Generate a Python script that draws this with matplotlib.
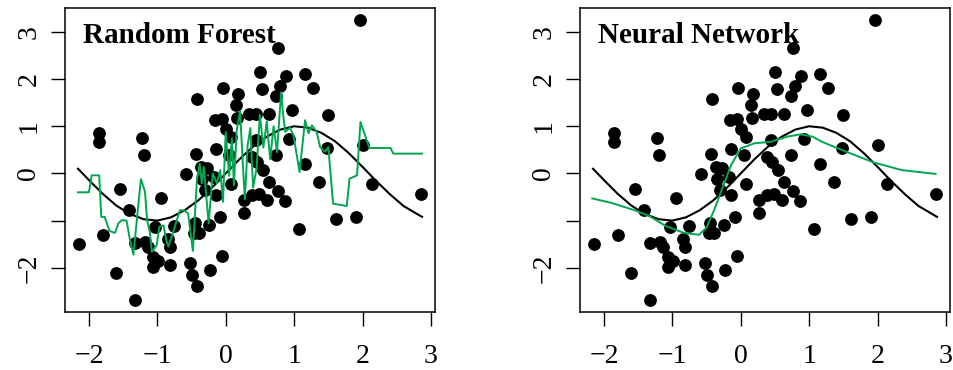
import matplotlib
matplotlib.use("Agg")
from matplotlib import pyplot as plt

plt.rcParams['font.family'] = ['Liberation Serif', 'DejaVu Serif']
plt.rcParams['axes.unicode_minus'] = True

# observed points (same in both panels)
pts_x = [-2.15, -1.85, -1.85, -1.79, -1.61, -1.55, -1.41, -1.33, -1.33, -1.22,
         -1.19, -1.18, -1.14, -1.04, -1.07, -0.99, -1.07, -0.95, -0.85, -0.82,
         -0.82, -0.76, -0.58, -0.52, -0.50, -0.42, -0.47, -0.45, -0.39, -0.23,
         -0.24, -0.09, -0.05, -0.36, -0.27, -0.34, -0.17, -0.31, -0.14, 0.08,
         0.26, 0.27, 0.39, 0.49, 0.61, 0.87, 0.64, 0.76, -0.42, -0.43,
         -0.14, 0.05, 0.00, 0.08, -0.04, 0.18, 0.15, -0.16, -0.05, 0.17,
         0.34, 0.45, 0.64, 0.97, 0.50, 0.53, 0.77, 0.88, 1.16, 0.79,
         1.27, 0.73, 1.49, 0.45, 0.93, 0.39, 0.46, 0.54, 0.74, 1.16,
         1.48, 2.00, 1.97, 1.37, 1.07, 1.61, 1.91, 2.14, 2.86]
pts_y = [-1.50, 0.86, 0.67, -1.31, -2.12, -0.32, -0.78, -2.68, -1.47, 0.75,
         0.40, -1.45, -1.56, -1.13, -1.78, -1.86, -1.98, -0.53, -1.38, -1.55,
         -1.95, -1.12, -0.01, -1.89, -2.15, -2.39, -1.27, -1.06, -1.26, -2.05,
         -1.10, -0.92, -1.75, 0.14, 0.11, -0.11, -0.07, -0.35, -0.46, -0.23,
         -0.83, -0.57, -0.46, -0.44, -0.57, -0.58, -0.19, -0.38, 1.57, 0.42,
         0.51, 0.39, 0.95, 0.78, 1.81, 1.69, 1.45, 1.14, 1.16, 1.18,
         1.27, 1.27, 1.27, 1.34, 2.16, 1.79, 2.66, 2.06, 2.10, 1.85,
         1.82, 1.64, 1.24, 0.71, 0.73, 0.35, 0.25, 0.07, 0.40, 0.21,
         0.53, 0.60, 3.25, -0.18, -1.18, -0.97, -0.93, -0.23, -0.44]

# true curve
true_x = [-2.16, -2.0, -1.8, -1.6, -1.4, -1.2, -1.0, -0.8, -0.6, -0.4, -0.2, 0.0,
          0.2, 0.4, 0.6, 0.8, 1.0, 1.2, 1.4, 1.6, 1.8, 2.0, 2.2, 2.4, 2.6, 2.87]
true_y = [0.10, -0.14, -0.43, -0.68, -0.86, -0.97, -1.00, -0.93, -0.78, -0.57, -0.30, 0.00,
          0.30, 0.57, 0.78, 0.93, 1.00, 0.97, 0.86, 0.68, 0.43, 0.14, -0.16, -0.44, -0.69, -0.92]

# random forest fit
rf_x = [-2.16, -2.00, -1.96, -1.85, -1.82, -1.77, -1.70, -1.62, -1.57, -1.52,
        -1.45, -1.40, -1.35, -1.24, -1.18, -1.15, -1.11, -1.08, -1.01, -0.97,
        -0.91, -0.87, -0.84, -0.79, -0.73, -0.67, -0.61, -0.55, -0.48, -0.42,
        -0.38, -0.35, -0.32, -0.25, -0.19, -0.13, -0.08, -0.04, 0.00, 0.05,
        0.09, 0.12, 0.16, 0.21, 0.25, 0.28, 0.32, 0.36, 0.40, 0.45,
        0.50, 0.55, 0.60, 0.65, 0.70, 0.75, 0.81, 0.84, 0.87, 0.94,
        0.99, 1.08, 1.16, 1.21, 1.26, 1.33, 1.38, 1.45, 1.50, 1.57,
        1.77, 1.81, 1.92, 1.97, 2.10, 2.41, 2.45, 2.87]
rf_y = [-0.40, -0.40, -0.04, -0.04, -0.92, -0.92, -1.22, -1.26, -1.06, -0.99,
        -1.00, -1.41, -1.72, -0.12, -0.39, -0.99, -1.24, -1.66, -1.52, -1.13,
        -1.10, -1.41, -1.55, -1.34, -1.06, -0.78, -0.78, -0.85, -1.64, -0.11,
        0.21, -0.21, 0.14, -1.06, 0.00, -0.21, 0.07, -0.60, 0.88, -0.05,
        0.74, -0.25, 0.90, 1.32, 0.20, -0.55, 0.60, 0.96, -0.30, 0.10,
        1.24, 0.55, 1.10, 0.30, 1.00, 0.45, 1.72, 1.24, 0.88, 0.97,
        0.81, 0.03, 1.13, 0.85, 1.02, 0.88, 0.56, 0.46, 0.56, -0.64,
        -0.69, -0.11, -0.04, 1.09, 0.54, 0.54, 0.42, 0.42]

# neural network fit
nn_x = [-2.17, -1.90, -1.55, -1.34, -1.09, -0.83, -0.61, -0.50, -0.39, -0.27,
        -0.14, 0.00, 0.20, 0.44, 0.68, 0.88, 1.05, 1.19, 1.49, 1.95, 2.36, 2.85]
nn_y = [-0.53, -0.62, -0.78, -0.90, -1.12, -1.26, -1.30, -1.15, -0.78, -0.32,
        0.18, 0.53, 0.64, 0.67, 0.78, 0.83, 0.78, 0.67, 0.49, 0.23, 0.07, -0.01]

titles = ["Random Forest", "Neural Network"]
fits = [(rf_x, rf_y), (nn_x, nn_y)]
green = '#00a651'
W, H = 954, 370

fig = plt.figure(figsize=(W / 100, H / 100), dpi=100)
lefts = [65, 580]
for i in range(2):
    ax = fig.add_axes([lefts[i] / W, (H - 311.7) / H, 370 / W, 303.4 / H])
    ax.scatter(pts_x, pts_y, s=85, color='black', zorder=3, linewidths=0)
    ax.plot(true_x, true_y, color='black', lw=1.5, zorder=2)
    ax.plot(fits[i][0], fits[i][1], color=green, lw=1.4, zorder=4)
    ax.set_xlim(-2.35, 3.06)
    ax.set_ylim(-2.93, 3.5)
    ax.set_xticks([-2, -1, 0, 1, 2, 3])
    ax.set_yticks([-2, -1, 0, 1, 2, 3])
    ax.set_yticklabels(['\u22122', '', '0', '1', '2', '3'], rotation=90, va='center')
    ax.tick_params(direction='out', length=10, width=1.0, labelsize=20)
    ax.tick_params(axis='x', pad=13)
    ax.tick_params(axis='y', pad=7)
    for sp in ax.spines.values():
        sp.set_linewidth(1.1)
    ax.text(0.049, 0.885, titles[i], transform=ax.transAxes, fontsize=21,
            fontweight='bold', va='baseline', ha='left', zorder=5)

fig.savefig('out.png', dpi=100)
